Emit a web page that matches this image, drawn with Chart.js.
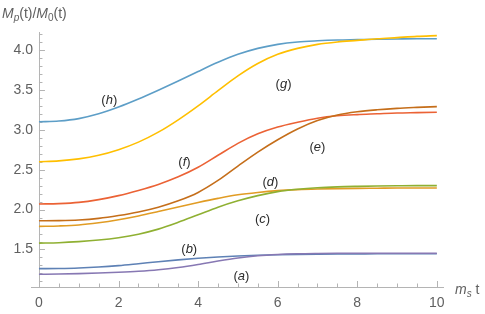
<!DOCTYPE html>
<html lang="en">
<head>
    <meta charset="UTF-8">
    <title>Mp(t)/M0(t) vs ms t</title>
    <script src="https://cdn.jsdelivr.net/npm/chart.js"></script>
    <style>
        body {
            margin: 0;
            background: #fff;
        }
        #wrap {
            width: 485px;
            height: 314px;
        }
    </style>
</head>
<body>
    <div id="wrap"><canvas id="ratioChart" width="485" height="314"></canvas></div>

    <script>
        // values, every half unit of m_s t
        const times  = [0, 0.5, 1, 1.5, 2, 2.5, 3, 3.5, 4, 4.5, 5, 5.5, 6, 6.5, 7, 7.5, 8, 8.5, 9, 9.5, 10];
        const curveA = [1.19, 1.192, 1.197, 1.205, 1.215, 1.228, 1.247, 1.275, 1.312, 1.355, 1.393, 1.421, 1.437, 1.446, 1.45, 1.452, 1.452, 1.453, 1.453, 1.453, 1.453];
        const curveB = [1.26, 1.262, 1.268, 1.28, 1.298, 1.322, 1.347, 1.37, 1.39, 1.406, 1.418, 1.427, 1.434, 1.439, 1.442, 1.444, 1.445, 1.446, 1.446, 1.446, 1.446];
        const curveC = [1.58, 1.585, 1.598, 1.618, 1.648, 1.692, 1.755, 1.84, 1.935, 2.03, 2.11, 2.175, 2.225, 2.255, 2.274, 2.285, 2.291, 2.295, 2.298, 2.30, 2.30];
        const curveD = [1.79, 1.795, 1.807, 1.835, 1.873, 1.92, 1.975, 2.032, 2.088, 2.14, 2.185, 2.215, 2.237, 2.25, 2.258, 2.263, 2.266, 2.268, 2.27, 2.27, 2.27];
        const curveE = [1.86, 1.862, 1.87, 1.89, 1.925, 1.97, 2.03, 2.11, 2.215, 2.365, 2.545, 2.72, 2.875, 3.01, 3.115, 3.185, 3.225, 3.25, 3.268, 3.28, 3.29];
        const curveF = [2.07, 2.075, 2.09, 2.125, 2.175, 2.24, 2.315, 2.41, 2.53, 2.68, 2.83, 2.95, 3.035, 3.095, 3.145, 3.175, 3.19, 3.20, 3.21, 3.215, 3.22];
        const curveG = [2.60, 2.61, 2.635, 2.68, 2.75, 2.845, 2.97, 3.125, 3.30, 3.49, 3.675, 3.83, 3.945, 4.02, 4.07, 4.10, 4.12, 4.14, 4.155, 4.17, 4.18];
        const curveH = [3.10, 3.11, 3.14, 3.20, 3.285, 3.385, 3.495, 3.61, 3.73, 3.845, 3.945, 4.02, 4.07, 4.10, 4.115, 4.125, 4.13, 4.135, 4.138, 4.14, 4.14];

        const curveNames  = ['a', 'b', 'c', 'd', 'e', 'f', 'g', 'h'];
        const curveColors = ['#8778B3', '#5E81B5', '#8FB032', '#E19C24', '#C56E1A', '#EB6235', '#FFBF00', '#5D9EC7'];

        const xTicks = [0, 2, 4, 6, 8, 10];
        const yTicks = [1.5, 2.0, 2.5, 3.0, 3.5, 4.0];

        const allCurves = [curveA, curveB, curveC, curveD, curveE, curveF, curveG, curveH];

        const AXIS = '#b4b4b4';
        const TEXT = '#606060';
        const FONT = '"Liberation Sans", Arial, sans-serif';

        // where the (a)..(h) tags sit, in data units
        const tagSpots = {
            a: [5.10, 1.18], b: [3.79, 1.52], c: [5.63, 1.89], d: [5.83, 2.36],
            e: [7.01, 2.80], f: [3.67, 2.61], g: [6.16, 3.59], h: [1.78, 3.39]
        };

        // draw a run of text pieces: [text, font, baseline shift]
        function drawRun(ctx, x, y, parts) {
            ctx.textAlign = 'left';
            ctx.textBaseline = 'alphabetic';
            for (const [txt, font, dy] of parts) {
                ctx.font = font;
                ctx.fillText(txt, x, y + dy);
                x += ctx.measureText(txt).width;
            }
        }

        const mathAxes = {
            id: 'mathAxes',
            beforeDatasetsDraw(chart) {
                const ctx = chart.ctx;
                const xs = chart.scales.x;
                const ys = chart.scales.y;
                const area = chart.chartArea;
                const x0 = xs.getPixelForValue(0);
                const yb = area.bottom;

                ctx.save();
                ctx.strokeStyle = AXIS;
                ctx.lineWidth = 1;
                ctx.beginPath();
                ctx.moveTo(area.left, yb + 0.5);
                ctx.lineTo(area.right, yb + 0.5);
                ctx.moveTo(Math.round(x0) + 0.5, area.top);
                ctx.lineTo(Math.round(x0) + 0.5, yb);
                ctx.stroke();

                // ticks point into the plot, Mathematica style
                ctx.beginPath();
                for (let i = 0; i <= 20; i++) {
                    const t = i * 0.5;
                    const px = Math.round(xs.getPixelForValue(t)) + 0.5;
                    const len = (i % 4 === 0) ? 6 : 3.5;
                    ctx.moveTo(px, yb);
                    ctx.lineTo(px, yb - len);
                }
                for (let i = 11; i <= 42; i++) {
                    const v = i / 10;
                    const py = Math.round(ys.getPixelForValue(v)) + 0.5;
                    const len = (i % 5 === 0) ? 6 : 3.5;
                    ctx.moveTo(x0, py);
                    ctx.lineTo(x0 + len, py);
                }
                ctx.stroke();

                ctx.fillStyle = TEXT;
                ctx.font = '14px ' + FONT;
                ctx.textAlign = 'center';
                ctx.textBaseline = 'middle';
                for (const t of xTicks) {
                    ctx.fillText(String(t), xs.getPixelForValue(t), yb + 16);
                }
                ctx.textAlign = 'right';
                for (const v of yTicks) {
                    ctx.fillText(v.toFixed(1), x0 - 6, ys.getPixelForValue(v));
                }

                // axis labels
                const it = 'italic 14px ' + FONT;
                const rg = '14px ' + FONT;
                const itS = 'italic 10px ' + FONT;
                const rgS = '10px ' + FONT;
                drawRun(ctx, 2, 18, [
                    ['M', it, 0], ['p', itS, 3], ['(t)/', rg, 0],
                    ['M', it, 0], ['0', rgS, 3], ['(t)', rg, 0]
                ]);
                drawRun(ctx, 455, 294, [['m', it, 0], ['s', itS, 3], [' t', rg, 0]]);
                ctx.restore();
            },
            afterDatasetsDraw(chart) {
                const ctx = chart.ctx;
                const xs = chart.scales.x;
                const ys = chart.scales.y;
                ctx.save();
                ctx.fillStyle = '#2b2b2b';
                for (const name of curveNames) {
                    const [t, v] = tagSpots[name];
                    const cx = xs.getPixelForValue(t);
                    const cy = ys.getPixelForValue(v);
                    ctx.font = '13px ' + FONT;
                    const wP = ctx.measureText('(').width;
                    ctx.font = 'italic 13px ' + FONT;
                    const wL = ctx.measureText(name).width;
                    const left = cx - (wP * 2 + wL + 1) / 2;
                    drawRun(ctx, left, cy + 5, [
                        ['(', '13px ' + FONT, 0], [name, 'italic 13px ' + FONT, 0],
                        [')', '13px ' + FONT, 0]
                    ]);
                }
                ctx.restore();
            }
        };

        const datasets = allCurves.map((vals, i) => ({
            label: '(' + curveNames[i] + ')',
            data: times.map((t, j) => ({ x: t, y: vals[j] })),
            borderColor: curveColors[i],
            borderWidth: 1.6,
            pointRadius: 0,
            fill: false,
            cubicInterpolationMode: 'monotone'
        }));

        new Chart(document.getElementById('ratioChart').getContext('2d'), {
            type: 'line',
            data: { datasets: datasets },
            options: {
                responsive: false,
                animation: false,
                events: [],
                layout: { padding: { left: 31, right: 41, top: 32, bottom: 27 } },
                plugins: {
                    legend: { display: false },
                    tooltip: { enabled: false }
                },
                scales: {
                    x: { type: 'linear', min: -0.2, max: 10.18, display: false },
                    y: { type: 'linear', min: 1.03, max: 4.225, display: false }
                }
            },
            plugins: [mathAxes]
        });
    </script>
</body>
</html>
